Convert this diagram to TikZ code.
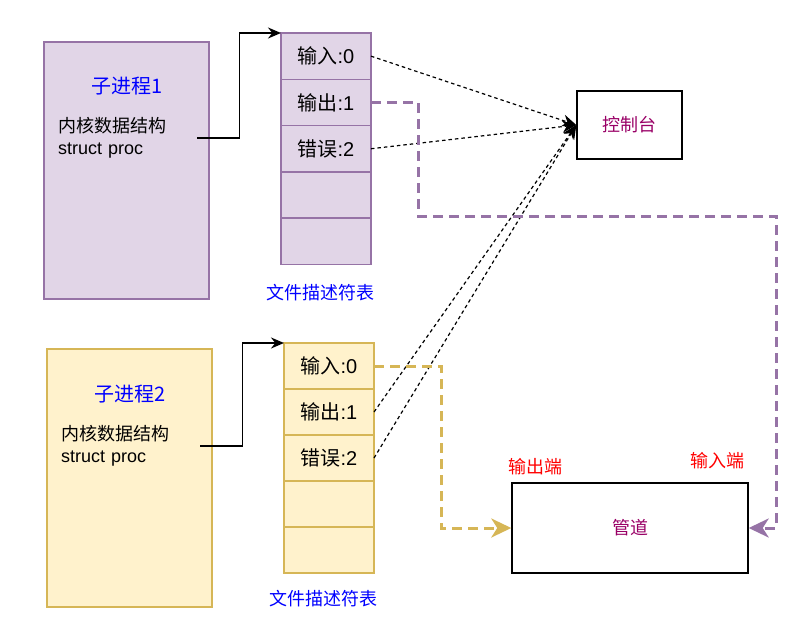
\documentclass[tikz,border=0pt]{standalone}
\usepackage{fontspec}
\setmainfont{Liberation Sans}
\newfontfamily\cjk{Noto Sans CJK SC}
\usepackage{tikz}
\usetikzlibrary{positioning,arrows.meta}
\definecolor{procpurple}{HTML}{E1D5E7}
\definecolor{procpurpleline}{HTML}{9673A6}
\definecolor{procyellow}{HTML}{FFF2CC}
\definecolor{procyellowline}{HTML}{D6B656}
\definecolor{titleblue}{RGB}{0,0,255}
\definecolor{boxtext}{RGB}{153,0,102}
\definecolor{endred}{RGB}{255,0,0}

\begin{document}
\begin{tikzpicture}[
    x=1pt, y=-1pt,
    every node/.style={font=\fontsize{18}{22}\selectfont},
    procbox/.style={draw=#1line, fill=#1, line width=1.5pt, minimum width=165pt, minimum height=257pt, inner sep=0pt},
    fdrow/.style={draw=#1line, fill=#1, line width=1.5pt, minimum width=90pt, minimum height=46.3pt, inner sep=0pt, outer sep=0pt, font=\fontsize{20}{24}\selectfont},
    title/.style={text=titleblue, font=\fontsize{20}{24}\selectfont},
    kern/.style={align=left, text width=135pt, inner sep=4pt},
    plainbox/.style={draw=black, line width=1.4pt, text=boxtext, inner sep=0pt},
    endlabel/.style={text=endred},
    link/.style={-{Stealth[length=13pt, width=11pt]}, line width=1.6pt},
    fdlink/.style={-{Stealth[length=14pt, width=12pt]}, line width=1.2pt, dash pattern=on 3.5pt off 3pt},
    pipelink/.style={draw=#1line, -{Stealth[length=20pt, width=19pt, inset=6pt, fill=#1line]}, line width=3pt, dash pattern=on 10pt off 6pt}
  ]
    \useasboundingbox (0,0) rectangle (803,623);

    % 子进程1
    \node[procbox=procpurple] (procA) at (126.5,170.5) {};
    \node[title] (procAname) at (127,86) {\cjk 子进程1};
    \node[kern, anchor=west] (kernA) at (54,138) {{\cjk 内核数据结构}\\struct proc};

    \node[fdrow=procpurple, anchor=north] (fdA0) at (326,33) {{\cjk 输入}:0};
    \node[fdrow=procpurple, below=0pt of fdA0] (fdA1) {{\cjk 输出}:1};
    \node[fdrow=procpurple, below=0pt of fdA1] (fdA2) {{\cjk 错误}:2};
    \node[fdrow=procpurple, below=0pt of fdA2] (fdA3) {};
    \node[fdrow=procpurple, below=0pt of fdA3] (fdA4) {};
    \node[title, font=\fontsize{18}{22}\selectfont] (fdAname) at (320,293) {\cjk 文件描述符表};

    \draw[link] (kernA.east) -- ++(42,0) |- (fdA0.north west);

    % 子进程2
    \node[procbox=procyellow, minimum height=258pt] (procB) at (129.5,478) {};
    \node[title] (procBname) at (130,394) {\cjk 子进程2};
    \node[kern, anchor=west] (kernB) at (57,446) {{\cjk 内核数据结构}\\struct proc};

    \node[fdrow=procyellow, anchor=north, minimum height=46pt] (fdB0) at (329,343) {{\cjk 输入}:0};
    \node[fdrow=procyellow, minimum height=46pt, below=0pt of fdB0] (fdB1) {{\cjk 输出}:1};
    \node[fdrow=procyellow, minimum height=46pt, below=0pt of fdB1] (fdB2) {{\cjk 错误}:2};
    \node[fdrow=procyellow, minimum height=46pt, below=0pt of fdB2] (fdB3) {};
    \node[fdrow=procyellow, minimum height=46pt, below=0pt of fdB3] (fdB4) {};
    \node[title, font=\fontsize{18}{22}\selectfont] (fdBname) at (323,599) {\cjk 文件描述符表};

    \draw[link] (kernB.east) -- ++(42,0) |- (fdB0.north west);

    % 控制台 und 管道
    \node[plainbox, minimum width=105pt, minimum height=68pt] (ctl) at (629.5,125) {\cjk 控制台};
    \node[plainbox, minimum width=236pt, minimum height=90pt] (pipe) at (630,528) {\cjk 管道};
    \node[endlabel] (pipeout) at (535,467) {\cjk 输出端};
    \node[endlabel] (pipein) at (717,461) {\cjk 输入端};

    % fd -> 控制台
    \draw[fdlink] (fdA0.east) -- (ctl.west);
    \draw[fdlink] (fdA2.east) -- (ctl.west);
    \draw[fdlink] (fdB1.east) -- (ctl.west);
    \draw[fdlink] (fdB2.east) -- (ctl.west);

    % fd -> 管道
    \coordinate (bendA) at (776,216);
    \draw[pipelink=procpurple] (fdA1.east) -- ++(47,0) |- (bendA) |- (pipe.east);
    \draw[pipelink=procyellow] (fdB0.east) -- ++(67,0) |- (pipe.west);
  \end{tikzpicture}
\end{document}
